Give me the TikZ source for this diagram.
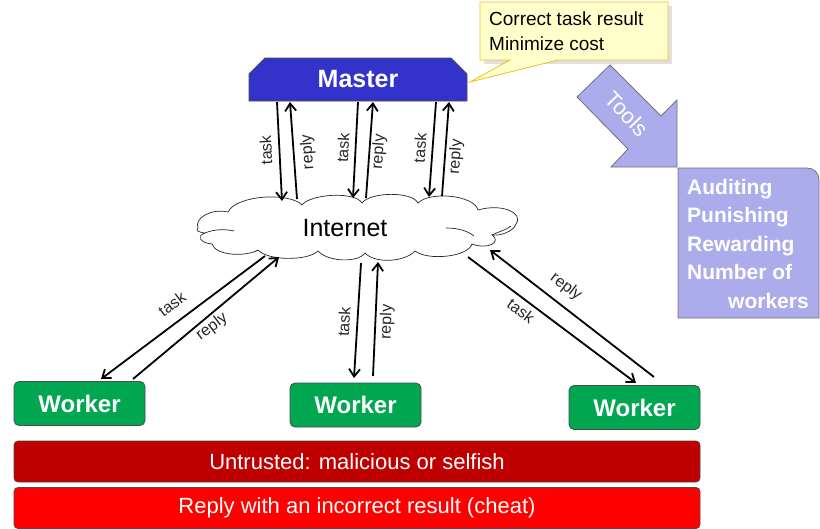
\documentclass[tikz,border=0pt]{standalone}
\usepackage{fontspec}
\setmainfont{Liberation Sans}
\usetikzlibrary{shapes.misc,arrows.meta}

\definecolor{masterblue}{RGB}{51,51,204}
\definecolor{workergreen}{RGB}{0,166,80}
\definecolor{notebg}{RGB}{255,255,204}
\definecolor{noteedge}{RGB}{240,190,30}
\definecolor{toolfill}{RGB}{172,172,236}
\definecolor{darkredbar}{RGB}{192,0,0}
\definecolor{brightredbar}{RGB}{255,0,0}

\newcommand\fsz[2]{\fontsize{#1}{#2}\selectfont}

\tikzset{
  box/.style={draw=black!70, line width=0.8pt, rounded corners=5pt, text=white,
              inner sep=0pt, font=\bfseries\fsz{24}{28}},
  worker/.style={box, fill=workergreen, minimum width=131pt, minimum height=44pt},
  bar/.style={draw=black!70, line width=0.8pt, rounded corners=4pt, minimum width=686pt,
              minimum height=41pt, inner sep=0pt, text=white, font=\fsz{22}{26}},
  flow/.style={-{Straight Barb[length=7.5pt,width=11pt]}, line width=1.8pt},
  lbl/.style={font=\fsz{16}{18}, text=black!85, inner sep=0pt},
  toolfig/.style={fill=toolfill, draw=black!55, line width=0.8pt},
  cloudline/.style={draw=black!85, line width=0.7pt}
}

\begin{document}
\begin{tikzpicture}[x=1pt, y=-1pt]
\useasboundingbox (0,0) rectangle (820,528);

% Master
\node[chamfered rectangle, chamfered rectangle corners={north west,north east},
      chamfered rectangle xsep=8pt, chamfered rectangle ysep=8pt,
      draw=black!70, line width=0.8pt, fill=masterblue, text=white,
      minimum width=218pt, minimum height=43pt, inner sep=0pt,
      font=\bfseries\fsz{25}{30}] (master) at (358,79.5) {Master};

% Goal callout
\fill[black!12] (484,6) rectangle (672,64);
\draw[fill=notebg, draw=noteedge, line width=0.8pt]
  (480,2) -- (668,2) -- (668,60) -- (558,60) -- (470,82) -- (510,60) -- (480,60) -- cycle;
\node[anchor=west, align=left, inner sep=0pt, font=\fsz{19}{25}] (goal) at (489,31)
  {Correct task result\\Minimize cost};

% Tools arrow
\draw[toolfig] (577,97) -- (610,65) -- (661,116) -- (677,100) -- (677,167)
  -- (611,167) -- (628,149) -- cycle;
\node[text=white, rotate=-46, font=\fsz{22}{26}] (toolsword) at (627,114) {Tools};

% Tools list
\draw[toolfig] (678,318) -- (678,168) -- (807,168)
  .. controls (814,168) and (819,173) .. (819,180) -- (819,318) -- cycle;
\node[anchor=west, align=left, inner sep=0pt, text=white,
      font=\bfseries\fsz{21}{28.5}] (tools) at (687,243.5)
  {Auditing\\Punishing\\Rewarding\\Number of\\\hspace*{41pt}workers};

% Internet cloud outline
\draw[cloudline, fill=white]
  (198,228) .. controls (194,219) and (210,208) .. (228,212)
  .. controls (236,195) and (290,192) .. (302,205)
  .. controls (310,194) and (355,191) .. (362,203)
  .. controls (370,192) and (412,191) .. (418,203)
  .. controls (430,191) and (474,195) .. (478,210)
  .. controls (502,203) and (524,213) .. (516,224)
  .. controls (513,232) and (500,236) .. (492,235)
  .. controls (502,242) and (488,250) .. (472,244)
  .. controls (468,257) and (428,261) .. (415,251)
  .. controls (405,262) and (375,264) .. (365,253)
  .. controls (358,263) and (328,262) .. (318,251)
  .. controls (308,261) and (268,261) .. (258,250)
  .. controls (246,257) and (216,256) .. (212,244)
  .. controls (200,243) and (196,236) .. (205,233)
  .. controls (197,232) and (196,230) .. (198,228) -- cycle;
\draw[cloudline] (205,233) .. controls (214,229) and (226,229) .. (234,231);
\draw[cloudline] (446,228) .. controls (458,228) and (468,231) .. (474,236);
\draw[cloudline] (492,235) .. controls (498,232) and (506,230) .. (511,226);
\node[font=\fsz{25}{30}, inner sep=0pt] (net) at (345,228) {Internet};

% Workers
\node[worker] (w1) at (79.5,403.5) {Worker};
\node[worker] (w2) at (355.5,405) {Worker};
\node[worker] (w3) at (634.5,407.5) {Worker};

% Trust bars
\node[bar, fill=darkredbar] (untrusted) at (357,461.5) {Untrusted: malicious or selfish};
\node[bar, fill=brightredbar] (cheat) at (357,508) {Reply with an incorrect result (cheat)};

% Connector end points
\coordinate (ma1) at (277,102);  \coordinate (na1) at (282,201);
\coordinate (na2) at (297,199);  \coordinate (ma2) at (290,102);
\coordinate (ma3) at (358,102);  \coordinate (na3) at (353,198);
\coordinate (na4) at (366,198);  \coordinate (ma4) at (373,102);
\coordinate (ma5) at (436,102);  \coordinate (na5) at (429,197);
\coordinate (na6) at (442,196);  \coordinate (ma6) at (449,102);

\coordinate (nb1) at (265,256);  \coordinate (wa1) at (101,379);
\coordinate (wa2) at (133,379);  \coordinate (nb2) at (279,257);
\coordinate (nb3) at (361,263);  \coordinate (wa3) at (354,378);
\coordinate (wa4) at (373,376);  \coordinate (nb4) at (378,262);
\coordinate (nb5) at (468,257);  \coordinate (wa5) at (636,383);
\coordinate (wa6) at (654,377);  \coordinate (nb6) at (490,250);

% Master <-> Internet
\draw[flow] (ma1) -- (na1);
\draw[flow] (na2) -- (ma2);
\draw[flow] (ma3) -- (na3);
\draw[flow] (na4) -- (ma4);
\draw[flow] (ma5) -- (na5);
\draw[flow] (na6) -- (ma6);
\node[lbl, rotate=93] at (266,150) {task};
\node[lbl, rotate=94] at (308,152) {reply};
\node[lbl, rotate=87] at (343,148) {task};
\node[lbl, rotate=86] at (379,152) {reply};
\node[lbl, rotate=86] at (420,148) {task};
\node[lbl, rotate=86] at (456,157) {reply};

% Internet <-> Workers
\draw[flow] (nb1) -- (wa1);
\draw[flow] (wa2) -- (nb2);
\draw[flow] (nb3) -- (wa3);
\draw[flow] (wa4) -- (nb4);
\draw[flow] (nb5) -- (wa5);
\draw[flow] (wa6) -- (nb6);
\node[lbl, rotate=37] at (172,304) {task};
\node[lbl, rotate=37] at (212,327) {reply};
\node[lbl, rotate=87] at (344,322) {task};
\node[lbl, rotate=88] at (387,322) {reply};
\node[lbl, rotate=-37] at (566,287) {reply};
\node[lbl, rotate=-37] at (521,311) {task};
\end{tikzpicture}
\end{document}
